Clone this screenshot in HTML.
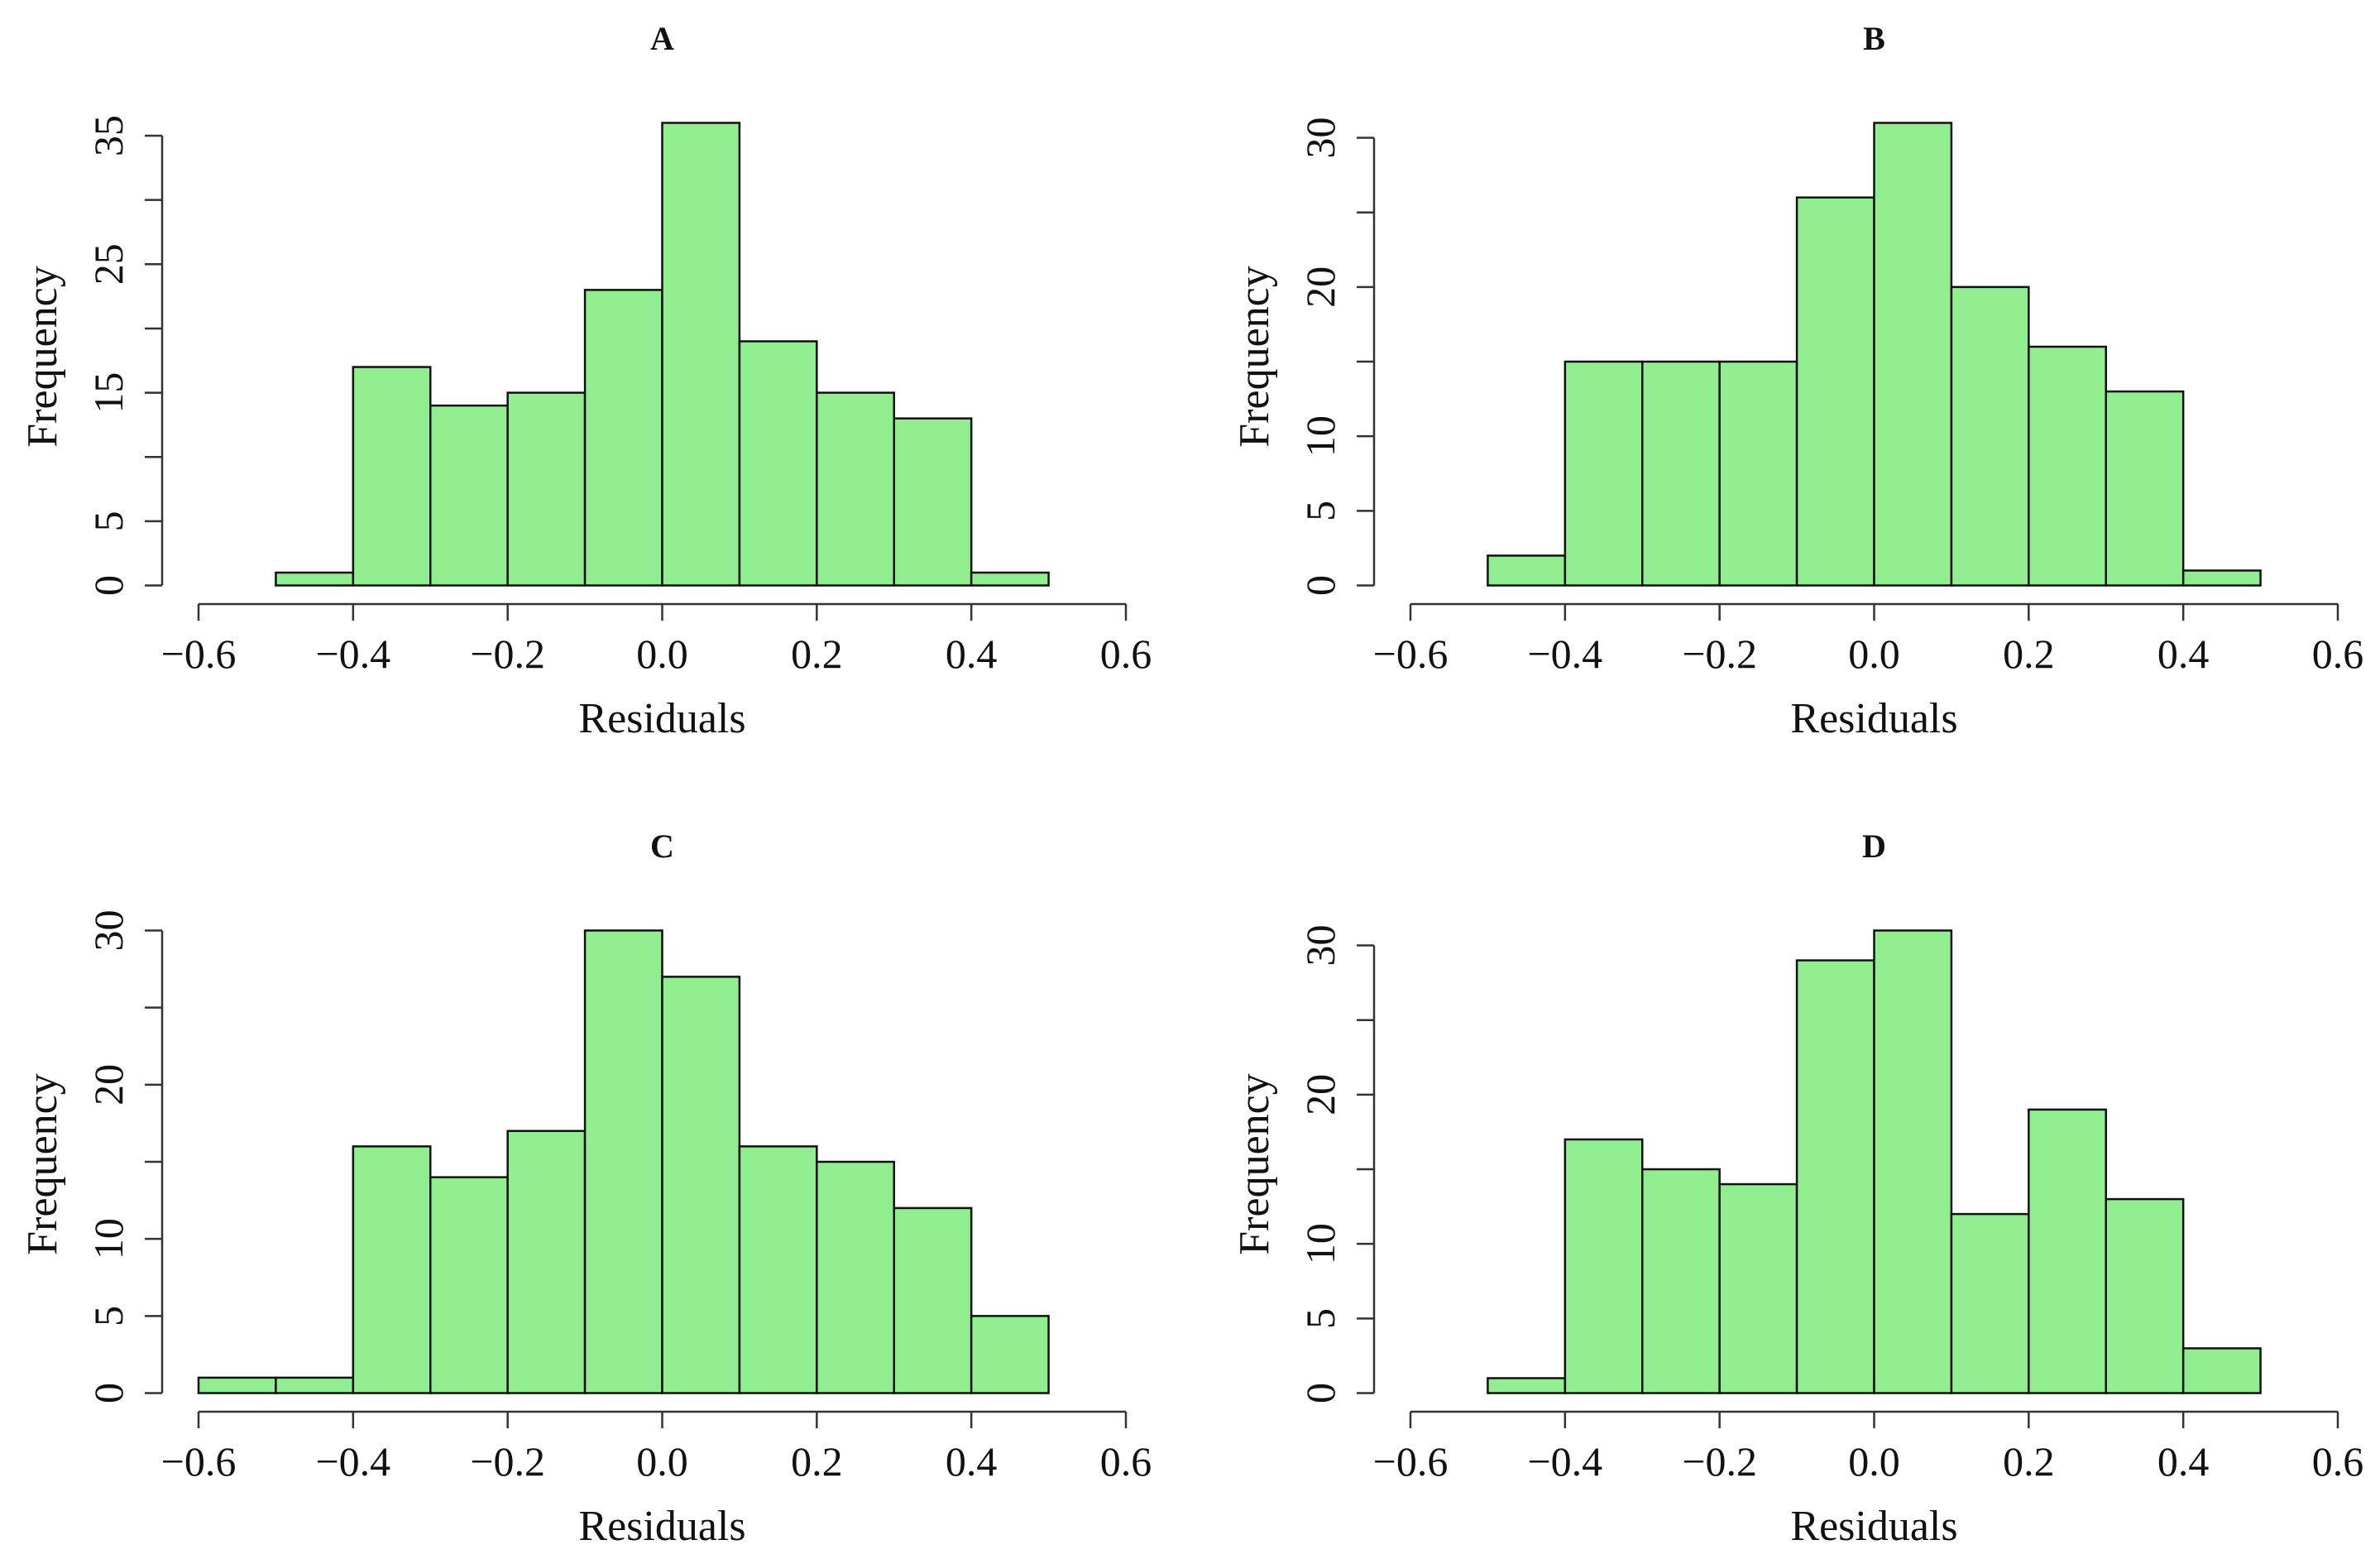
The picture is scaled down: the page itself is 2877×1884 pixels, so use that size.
<!DOCTYPE html>
<html><head><meta charset="utf-8"><style>
html,body{margin:0;padding:0;background:#fff;}
svg{display:block;font-family:"Liberation Serif",serif;}
</style></head><body>
<svg id="chart" width="2877" height="1884" viewBox="0 0 2877 1884" xmlns="http://www.w3.org/2000/svg"></svg>
<script>
const titles = ["A","B","C","D"];
const binStartsA = [-0.5,-0.4,-0.3,-0.2,-0.1,0.0,0.1,0.2,0.3,0.4];
const countsA = [1,17,14,15,23,36,19,15,13,1];
const binStartsB = [-0.5,-0.4,-0.3,-0.2,-0.1,0.0,0.1,0.2,0.3,0.4];
const countsB = [2,15,15,15,26,31,20,16,13,1];
const binStartsC = [-0.6,-0.5,-0.4,-0.3,-0.2,-0.1,0.0,0.1,0.2,0.3,0.4];
const countsC = [1,1,16,14,17,30,27,16,15,12,5];
const binStartsD = [-0.5,-0.4,-0.3,-0.2,-0.1,0.0,0.1,0.2,0.3,0.4];
const countsD = [1,17,15,14,29,31,12,19,13,3];
const xTicks = [-0.6,-0.4,-0.2,0.0,0.2,0.4,0.6];
const xTickLabels = ["\u22120.6","\u22120.4","\u22120.2","0.0","0.2","0.4","0.6"];
const yTicksA = [0,5,10,15,20,25,30,35];
const yLabelsA = ["0","5","","15","","25","","35"];
const yTicksBCD = [0,5,10,15,20,25,30];
const yLabelsBCD = ["0","5","10","","20","","30"];
const binWidth = 0.1;

const panels = [
  {starts:binStartsA, counts:countsA, yt:yTicksA, yl:yLabelsA, ox:0, oy:0},
  {starts:binStartsB, counts:countsB, yt:yTicksBCD, yl:yLabelsBCD, ox:1465, oy:0},
  {starts:binStartsC, counts:countsC, yt:yTicksBCD, yl:yLabelsBCD, ox:0, oy:976},
  {starts:binStartsD, counts:countsD, yt:yTicksBCD, yl:yLabelsBCD, ox:1465, oy:976}
];
const NS = "http://www.w3.org/2000/svg";
const svg = document.getElementById('chart');
function mk(tag, attrs, parent){
  const e = document.createElementNS(NS, tag);
  for (const k in attrs) e.setAttribute(k, attrs[k]);
  parent.appendChild(e);
  return e;
}
panels.forEach((p, i) => {
  const g = mk('g', {}, svg);
  
  
  const x0 = 240 + p.ox, x1 = 1361 + p.ox;
  const base = 707.5 + p.oy, topPx = 148.5 + p.oy;
  const maxC = Math.max(...p.counts);
  const xs = v => x0 + (v + 0.6) / 1.2 * (x1 - x0);
  const ys = v => base - v / maxC * (base - topPx);
  p.counts.forEach((c, j) => {
    const r = mk('rect', {x: xs(p.starts[j]), y: ys(c), width: xs(p.starts[j] + binWidth) - xs(p.starts[j]), height: base - ys(c), fill: '#90EE90', stroke: '#111', 'stroke-width': 2.5}, g);
    
    
  });
  const axY = 730 + p.oy;
  const xa = mk('g', {stroke: '#333', 'stroke-width': 2.5, fill: 'none'}, g);
  
  
  mk('line', {x1: xs(xTicks[0]), y1: axY, x2: xs(xTicks[xTicks.length - 1]), y2: axY}, xa);
  xTicks.forEach((t, j) => {
    mk('line', {x1: xs(t), y1: axY, x2: xs(t), y2: axY + 20}, xa);
    const tx = mk('text', {x: xs(t), y: axY + 77, 'text-anchor': 'middle', 'font-size': 50, fill: '#111', stroke: 'none'}, g);
    tx.textContent = xTickLabels[j];
    
    
  });
  const axX = 196 + p.ox;
  const ya = mk('g', {stroke: '#333', 'stroke-width': 2.5, fill: 'none'}, g);
  
  
  mk('line', {x1: axX, y1: ys(p.yt[0]), x2: axX, y2: ys(p.yt[p.yt.length - 1])}, ya);
  p.yt.forEach((t, j) => {
    mk('line', {x1: axX - 21, y1: ys(t), x2: axX, y2: ys(t)}, ya);
    if (p.yl[j]) {
      const tx = mk('text', {x: 0, y: 0, transform: 'translate(' + (axX - 48) + ',' + ys(t) + ') rotate(-90)', 'text-anchor': 'middle', 'font-size': 50, fill: '#111', stroke: 'none'}, g);
      tx.textContent = p.yl[j];
      
      
    }
  });
  const tt = mk('text', {x: (x0 + x1) / 2, y: 60 + p.oy, 'text-anchor': 'middle', 'font-size': 40, 'font-weight': 'bold', fill: '#111'}, g);
  tt.textContent = titles[i];
  
  
  const xl = mk('text', {x: (x0 + x1) / 2, y: 885 + p.oy, 'text-anchor': 'middle', 'font-size': 52, fill: '#111'}, g);
  xl.textContent = 'Residuals';
  
  
  const yl = mk('text', {x: 0, y: 0, transform: 'translate(' + (68 + p.ox) + ',' + (431 + p.oy) + ') rotate(-90)', 'text-anchor': 'middle', 'font-size': 52, fill: '#111'}, g);
  yl.textContent = 'Frequency';
  
  
});
</script>
</body></html>
